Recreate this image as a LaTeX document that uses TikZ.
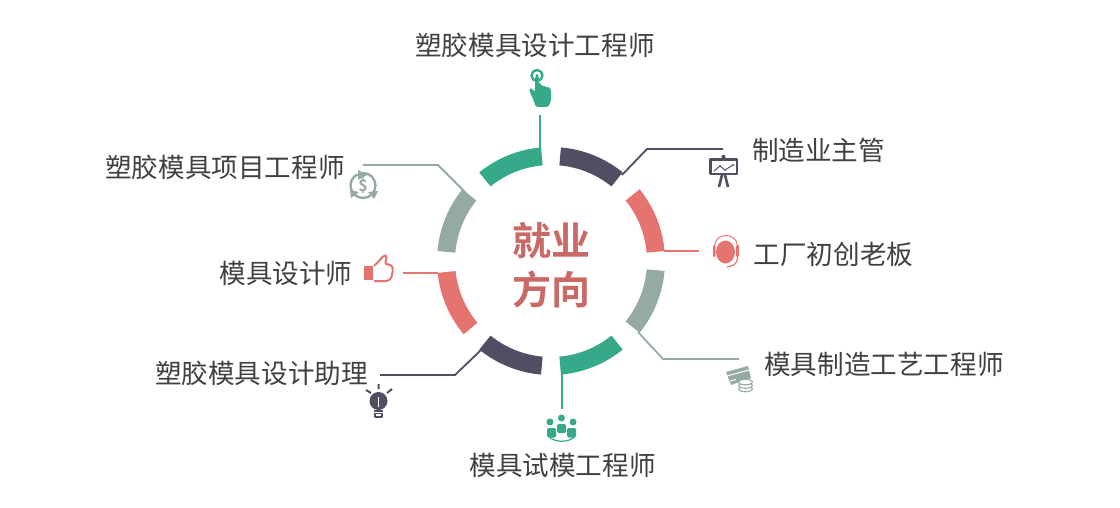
\documentclass[tikz,border=0pt]{standalone}
\usepackage{fontspec}
\usepackage{tikz}
\usetikzlibrary{calc}
\newfontfamily\cjk{Noto Sans CJK SC}
\newfontfamily\cjkbold{Noto Sans CJK SC Bold}
\definecolor{zgreen}{HTML}{36A98A}
\definecolor{zdark}{HTML}{514D63}
\definecolor{zred}{HTML}{E57471}
\definecolor{zgray}{HTML}{95A9A5}
\definecolor{ztext}{HTML}{404040}
\definecolor{zcenter}{HTML}{C96A66}
\tikzset{
	joblabel/.style={inner sep=0pt,text=ztext,font=\cjk\fontsize{26.6}{30}\selectfont},
	titlelabel/.style={inner sep=0pt,text=zcenter,font=\cjkbold\fontsize{39}{48.5}\selectfont,align=center},
	leader/.style={line width=1.8pt}
}
\begin{document}
\begin{tikzpicture}[x=1pt,y=-1pt,line join=round]
	\useasboundingbox (0,0) rectangle (1120,508);
	\def \Ro{114} \def \Ri{96}
	\coordinate (O) at (551,261);
	\foreach \a/\b/\c in {-129/-95/zgreen,-85/-51/zdark,-39/-5/zred,5/39/zgray,51/85/zgreen,95/129/zdark,140/174/zred,-175/-141/zgray}
		\fill[\c] ($(O)+(\a:\Ro)$) arc (\a:\b:\Ro) -- ($(O)+(\b:\Ri)$) arc (\b:\a:\Ri) -- cycle;
	% labels
	\node[titlelabel] (title) at (551.5,265) {就业\\方向};
	\node[joblabel] (top) at (535,45.5) {塑胶模具设计工程师};
	\node[joblabel] (chief) at (818.5,150.5) {制造业主管};
	\node[joblabel] (boss) at (833.5,254) {工厂初创老板};
	\node[joblabel] (craft) at (884,364) {模具制造工艺工程师};
	\node[joblabel] (trial) at (562.5,465) {模具试模工程师};
	\node[joblabel] (assist) at (261.5,373) {塑胶模具设计助理};
	\node[joblabel] (design) at (286,273) {模具设计师};
	\node[joblabel] (proj) at (225,167) {塑胶模具项目工程师};
	% leaders
	\coordinate (a1) at (540,115); \coordinate (a2) at (540,149);
	\draw[leader,zgreen] (a1) -- (a2);
	\coordinate (b1) at (723,149); \coordinate (b2) at (647,149); \coordinate (b3) at (622,175);
	\draw[leader,zdark] (b1) -- (b2) -- (b3);
	\coordinate (c1) at (699,251); \coordinate (c2) at (664,251);
	\draw[leader,zred] (c1) -- (c2);
	\coordinate (d1) at (739,359); \coordinate (d2) at (663,359); \coordinate (d3) at (638,332);
	\draw[leader,zgray] (d1) -- (d2) -- (d3);
	\coordinate (e1) at (562,409); \coordinate (e2) at (562,372);
	\draw[leader,zgreen] (e1) -- (e2);
	\coordinate (f1) at (380,375); \coordinate (f2) at (455,375); \coordinate (f3) at (481,350);
	\draw[leader,zdark] (f1) -- (f2) -- (f3);
	\coordinate (g1) at (403,273); \coordinate (g2) at (438,273);
	\draw[leader,zred] (g1) -- (g2);
	\coordinate (h1) at (363,165); \coordinate (h2) at (438,165); \coordinate (h3) at (466,193);
	\draw[leader,zgray] (h1) -- (h2) -- (h3);
	% hand
	\draw[zgreen,line width=2.4pt] (537,75.5) circle (5.5);
	\fill[zgreen] (537,75.5) circle (1.6);
	\fill[zgreen,rounded corners=1.5pt] (535.2,76) -- (538.8,76) -- (538.8,84) -- (542,84) -- (542,87) -- (545,85) -- (545,88) -- (548,86.5) -- (551,89) -- (551,101) -- (548,107) -- (536,107) -- (533,99) -- (529,90) -- (530.5,87.5) -- (535.2,92) -- cycle;
	% board
	\draw[zdark,line width=2.8pt] (710.5,159.5) rectangle (737,174);
	\fill[zdark] (723.5,157) circle (2.2);
	\draw[zdark,line width=2.6pt] (722,175) -- (719,187) (725,175) -- (728,187);
	\draw[zdark,line width=1pt] (714,171) -- (720,166) -- (725,170) -- (733,165);
	\fill[zdark] (720,166) circle (1) (725,170) circle (1) (733,165) circle (1);
	% headset
	\fill[zred] (725.5,252) ellipse (9.5 and 11.5);
	\draw[zred,line width=1pt] (714.5,246) .. controls (715,232) and (737,232) .. (737.5,246);
	\fill[zred,rounded corners=1pt] (713,245) rectangle (715.5,257) (736,245) rectangle (739,257);
	\draw[zred,line width=1.2pt] (737.5,257) .. controls (737.5,265) and (732,266) .. (727,267);
	% dollar
	\draw[zgray,line width=2.4pt] (363,185.5) circle (12.5);
	\node[inner sep=0pt,text=zgray,font=\cjkbold\fontsize{16}{16}\selectfont] (dollar) at (363,185.5) {\$};
	\fill[white] (356,168) rectangle (360,174);
	\fill[zgray] (358,170) -- (367,175) -- (358,180) -- cycle;
	\fill[zgray] (350,190) -- (359,192) -- (351,198) -- cycle;
	\fill[zgray] (368,192) -- (378,191) -- (374,199) -- cycle;
	% thumb
	\fill[zred] (364,266) rectangle (373,280);
	\draw[zred,line width=2pt,rounded corners=2pt] (374,266) -- (380,260) -- (384,255) -- (387,256) -- (385,264) -- (392,265) -- (393,270) -- (391,279) -- (388,281) -- (374,281);
	% bulb
	\fill[zdark] (378.5,401) circle (9);
	\fill[white] (377.7,397) rectangle (379.3,407);
	\fill[zdark] (374,410) rectangle (383,412);
	\draw[zdark,line width=1.2pt] (375,413.5) rectangle (382,417);
	\draw[zdark,line width=2pt] (378.5,384) -- (378.5,389) (366,390) -- (371,393) (392,389) -- (387,393);
	% card and coins
	\fill[zgray] (726,372) -- (748,366) -- (751,378) -- (731,385) -- cycle;
	\draw[white,line width=1pt] (727,376) -- (749,370) (730,381) -- (736,379.5);
	\fill[white] (745.5,388) ellipse (8.5 and 9);
	\foreach \y in {389,385.5,382}
		\draw[zgray,line width=1.1pt,fill=white] (745.5,\y) ellipse (6.8 and 2.8);
	% people
	\fill[zgreen] (550,422) circle (3.5) (561.5,418) circle (3.5) (573,422) circle (3.5);
	\fill[zgreen,rounded corners=1.5pt] (547,428) rectangle (556,437.5) (557,424) rectangle (566,433) (567,428) rectangle (576,437.5);
	\draw[zgreen,line width=1.2pt] (549,436) .. controls (553,443) and (570,443) .. (575,436);
\end{tikzpicture}
\end{document}
